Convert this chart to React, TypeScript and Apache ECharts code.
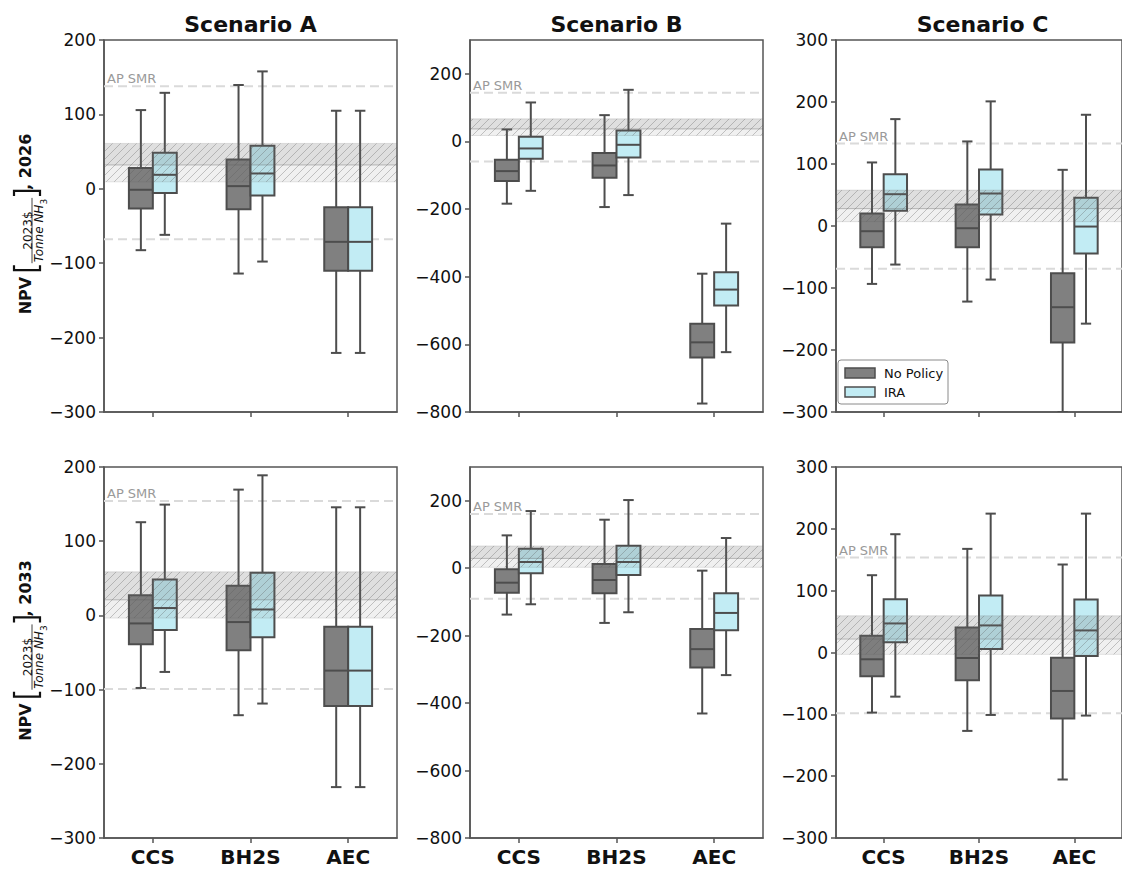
import React, { useEffect, useRef } from 'react';
import * as echarts from 'echarts';

const FONT = "'DejaVu Sans', sans-serif";

const categories = ['CCS', 'BH2S', 'AEC'];
const scenarios = ['Scenario A', 'Scenario B', 'Scenario C'];
const years = ['2026', '2033'];
const legendNames = ['No Policy', 'IRA'];
const refLabel = 'AP SMR';

// each box: [min, q1, median, q3, max] for CCS, BH2S, AEC
const a2026NoPolicy = [[-82.5, -26.5, -1.3, 27.8, 105.8], [-113.9, -27.4, 3.6, 39.5, 139.5], [-220.6, -110.3, -71.3, -24.7, 104.9]];
const a2026IRA = [[-61.9, -5.8, 18.8, 48.4, 129], [-97.8, -9, 20.6, 57.8, 157.8], [-220.6, -110.3, -71.3, -24.7, 104.9]];
const b2026NoPolicy = [[-184, -117, -87.7, -54, 35.5], [-194, -107, -71, -34.5, 77.8], [-775, -639, -594, -539, -391]];
const b2026IRA = [[-146, -51.2, -20.7, 13.8, 115.3], [-158.6, -47.3, -9.9, 32.5, 152.7], [-623, -485, -438, -387, -243]];
const c2026NoPolicy = [[-93.4, -34.2, -8.4, 20, 102.5], [-121.9, -34.2, -3.6, 34.7, 136.4], [-300, -188, -131, -76.2, 90.6]];
const c2026IRA = [[-62.2, 24.4, 51.3, 83.6, 172.4], [-86.4, 18.5, 52.4, 91.2, 201], [-157.5, -44.4, -0.9, 45.4, 179.4]];
const a2033NoPolicy = [[-97.8, -39, -10.8, 27, 125.6], [-134.5, -47, -9, 40, 169.5], [-231.4, -122, -74.4, -15.2, 145.7]];
const a2033IRA = [[-76.2, -19.7, 9.9, 48.4, 149.3], [-118.8, -29.6, 8, 57.4, 188.8], [-231.4, -122, -74.4, -15.2, 145.7]];
const b2033NoPolicy = [[-137.6, -72.5, -43, -3.4, 97.3], [-162.3, -74.4, -35, 12.4, 143.7], [-430.8, -294.6, -240, -180, -7.3]];
const b2033IRA = [[-107, -15.2, 18.4, 57.8, 169.4], [-130.7, -20.1, 18.4, 66.7, 202], [-317, -184, -132.7, -74.4, 89.4]];
const c2033NoPolicy = [[-97.2, -38.5, -11, 27.1, 125], [-126.8, -45, -8.9, 40.6, 167.6], [-205.4, -106.9, -62.2, -8.4, 142.3]];
const c2033IRA = [[-71.4, 16.4, 47, 86.3, 191.3], [-101, 5.6, 43.8, 92.2, 224.6], [-102, -5.7, 35.7, 85.8, 224.6]];

// hatched SMR band per scenario: [low, mid, high]
const band2026 = [[9.4, 32, 61], [17.6, 37, 66.8], [7, 28, 58]];
const band2033 = [[-3.6, 21, 58.7], [2.6, 29, 66], [-3, 21.7, 59.4]];
// dashed reference lines per scenario: [AP SMR, lower]
const ref2026 = [[138, -67.7], [143.8, -59], [133, -69]];
const ref2033 = [[154.3, -99.1], [160.5, -91], [153.6, -98.3]];

// y axis ranges per scenario
const yMins = [-300, -800, -300];
const yMaxs = [200, 300, 300];
const yIntervals = [100, 200, 100];

const noPolicyRows = [[a2026NoPolicy, b2026NoPolicy, c2026NoPolicy], [a2033NoPolicy, b2033NoPolicy, c2033NoPolicy]];
const iraRows = [[a2026IRA, b2026IRA, c2026IRA], [a2033IRA, b2033IRA, c2033IRA]];
const bandRows = [band2026, band2033];
const refRows = [ref2026, ref2033];

// layout
const GRID_LEFT = [104, 470, 836];
const GRID_TOP = [40, 467];
const GRID_H = [372, 371];
const GRID_W = 293;

const EDGE = '#4d4d4d';
const NP_FILL = '#808080';
const IRA_FILL = '#c2ecf4';
const SPINE = '#555555';

function measure(text: string, font: string) {
  const ctx = document.createElement('canvas').getContext('2d') as CanvasRenderingContext2D;
  ctx.font = font;
  return ctx.measureText(text).width;
}

function boxRender(sign: number, fill: string) {
  return (params: any, api: any) => {
    const cat = api.value(0);
    const yMin = api.coord([cat, api.value(1)])[1];
    const yQ1 = api.coord([cat, api.value(2)])[1];
    const yMed = api.coord([cat, api.value(3)])[1];
    const yQ3 = api.coord([cat, api.value(4)])[1];
    const yMax = api.coord([cat, api.value(5)])[1];
    const c0 = api.coord([cat, 0])[0];
    const band = api.size([1, 0])[0];
    const bw = band * 0.245;
    const cx = c0 + (sign * bw) / 2;
    const cap = bw * 0.22;
    const st = { stroke: EDGE, lineWidth: 2 };
    return {
      type: 'group',
      children: [
        { type: 'line', shape: { x1: cx, y1: yMax, x2: cx, y2: yQ3 }, style: st },
        { type: 'line', shape: { x1: cx, y1: yQ1, x2: cx, y2: yMin }, style: st },
        { type: 'line', shape: { x1: cx - cap, y1: yMax, x2: cx + cap, y2: yMax }, style: st },
        { type: 'line', shape: { x1: cx - cap, y1: yMin, x2: cx + cap, y2: yMin }, style: st },
        { type: 'rect', shape: { x: cx - bw / 2, y: yQ3, width: bw, height: yQ1 - yQ3 }, style: { fill, stroke: EDGE, lineWidth: 2 } },
        { type: 'line', shape: { x1: cx - bw / 2, y1: yMed, x2: cx + bw / 2, y2: yMed }, style: st },
      ],
    };
  };
}

function bandRender(params: any, api: any) {
  const cs = params.coordSys;
  const yLow = api.coord([0, api.value(1)])[1];
  const yMid = api.coord([0, api.value(2)])[1];
  const yHigh = api.coord([0, api.value(3)])[1];
  const x0 = cs.x;
  const x1 = cs.x + cs.width;
  const children: any[] = [
    { type: 'rect', shape: { x: x0, y: yHigh, width: cs.width, height: yMid - yHigh }, style: { fill: 'rgba(110,110,110,0.22)' } },
    { type: 'rect', shape: { x: x0, y: yMid, width: cs.width, height: yLow - yMid }, style: { fill: 'rgba(110,110,110,0.1)' } },
  ];
  const s = 8;
  const cStart = Math.ceil((x0 + yHigh) / s) * s;
  for (let c = cStart; c <= x1 + yLow; c += s) {
    const xa = Math.max(x0, c - yLow);
    const xb = Math.min(x1, c - yHigh);
    if (xb > xa) {
      children.push({ type: 'line', shape: { x1: xa, y1: c - xa, x2: xb, y2: c - xb }, style: { stroke: 'rgba(90,90,90,0.33)', lineWidth: 1 } });
    }
  }
  children.push({ type: 'line', shape: { x1: x0, y1: yMid, x2: x1, y2: yMid }, style: { stroke: 'rgba(90,90,90,0.35)', lineWidth: 1 } });
  children.push({ type: 'line', shape: { x1: x0, y1: yHigh, x2: x1, y2: yHigh }, style: { stroke: 'rgba(90,90,90,0.15)', lineWidth: 1 } });
  children.push({ type: 'line', shape: { x1: x0, y1: yLow, x2: x1, y2: yLow }, style: { stroke: 'rgba(90,90,90,0.15)', lineWidth: 1 } });
  return { type: 'group', children };
}

function refRender(params: any, api: any) {
  const cs = params.coordSys;
  const yUp = api.coord([0, api.value(1)])[1];
  const yLo = api.coord([0, api.value(2)])[1];
  const dash = { stroke: '#dadada', lineWidth: 2, lineDash: [9, 5] };
  return {
    type: 'group',
    children: [
      { type: 'line', shape: { x1: cs.x, y1: yUp, x2: cs.x + cs.width, y2: yUp }, style: dash },
      { type: 'line', shape: { x1: cs.x, y1: yLo, x2: cs.x + cs.width, y2: yLo }, style: dash },
      {
        type: 'text',
        x: cs.x + 3,
        y: yUp - 1,
        style: { text: refLabel, fontSize: 13, fontFamily: FONT, fill: '#9a9a9a', verticalAlign: 'bottom', textVerticalAlign: 'bottom', align: 'left', textAlign: 'left' },
      },
    ],
  };
}

function yLabel(year: string, cy: number) {
  const fMain = `bold 16px ${FONT}`;
  const t1 = 'NPV ';
  const t2 = ', ' + year;
  const w1 = measure(t1, fMain);
  const w2 = measure(t2, fMain);
  const wNum = measure('2023$', `12px ${FONT}`);
  const wDen1 = measure('Tonne NH', `italic 12px ${FONT}`);
  const wSub = measure('3', `9px ${FONT}`);
  const wDen = wDen1 + wSub;
  const wf = Math.max(wNum, wDen) + 2;
  const bw = 6;
  const gap = 2;
  const total = w1 + bw + gap + wf + gap + bw + w2;
  const x0 = -total / 2;
  const bx1 = x0 + w1;
  const fx0 = bx1 + bw + gap;
  const fc = fx0 + wf / 2;
  const bx2 = fx0 + wf + gap + bw;
  const bTop = -11;
  const bBot = 15;
  const barY = 7;
  const txt = (x: number, y: number, text: string, extra: any) => ({
    type: 'text',
    x,
    y,
    style: Object.assign({ text, fontFamily: FONT, fill: '#111' }, extra),
  });
  return {
    type: 'group',
    x: 25,
    y: cy,
    rotation: Math.PI / 2,
    children: [
      txt(x0, 0, t1, { fontSize: 16, fontWeight: 'bold', align: 'left', textAlign: 'left', verticalAlign: 'middle', textVerticalAlign: 'middle' }),
      { type: 'polyline', shape: { points: [[bx1 + bw, bTop], [bx1 + 1, bTop], [bx1 + 1, bBot], [bx1 + bw, bBot]] }, style: { stroke: '#111', lineWidth: 2.2, fill: null } },
      txt(fc, barY + 1.5, '2023$', { fontSize: 12, align: 'center', textAlign: 'center', verticalAlign: 'bottom', textVerticalAlign: 'bottom' }),
      { type: 'line', shape: { x1: fx0, y1: barY, x2: fx0 + wf, y2: barY }, style: { stroke: '#111', lineWidth: 0.8 } },
      txt(fc - wDen / 2, barY + 1, 'Tonne NH', { fontSize: 12, fontStyle: 'italic', align: 'left', textAlign: 'left', verticalAlign: 'top', textVerticalAlign: 'top' }),
      txt(fc - wDen / 2 + wDen1, barY + 7, '3', { fontSize: 9, align: 'left', textAlign: 'left', verticalAlign: 'top', textVerticalAlign: 'top' }),
      { type: 'polyline', shape: { points: [[bx2 - bw, bTop], [bx2 - 1, bTop], [bx2 - 1, bBot], [bx2 - bw, bBot]] }, style: { stroke: '#111', lineWidth: 2.2, fill: null } },
      txt(bx2, 0, t2, { fontSize: 16, fontWeight: 'bold', align: 'left', textAlign: 'left', verticalAlign: 'middle', textVerticalAlign: 'middle' }),
    ],
  };
}

function buildOption() {
  const grid: any[] = [];
  const xAxis: any[] = [];
  const yAxis: any[] = [];
  const series: any[] = [];
  for (let r = 0; r < 2; r++) {
    for (let c = 0; c < 3; c++) {
      const k = r * 3 + c;
      grid.push({
        left: GRID_LEFT[c],
        top: GRID_TOP[r],
        width: GRID_W,
        height: GRID_H[r],
        show: true,
        borderColor: SPINE,
        borderWidth: 1.5,
        backgroundColor: 'transparent',
      });
      xAxis.push({
        type: 'category',
        gridIndex: k,
        data: categories,
        axisLine: { show: true, onZero: false, lineStyle: { color: SPINE, width: 1.5 } },
        axisTick: { show: true, alignWithLabel: true, length: 5, lineStyle: { color: SPINE, width: 1.5 } },
        axisLabel: { show: r === 1, fontFamily: FONT, fontWeight: 'bold', fontSize: 20, color: '#111', margin: 9 },
        splitLine: { show: false },
      });
      yAxis.push({
        type: 'value',
        gridIndex: k,
        min: yMins[c],
        max: yMaxs[c],
        interval: yIntervals[c],
        axisLine: { show: true, onZero: false, lineStyle: { color: SPINE, width: 1.5 } },
        axisTick: { show: true, length: 5, lineStyle: { color: SPINE, width: 1.5 } },
        axisLabel: {
          fontFamily: FONT,
          fontSize: 17,
          color: '#111',
          margin: 8,
          showMaxLabel: (yMaxs[c] - yMins[c]) % yIntervals[c] === 0,
          formatter: (v: number) => (v < 0 ? '\u2212' + Math.abs(v) : String(v)),
        },
        splitLine: { show: false },
      });
      series.push({
        type: 'custom',
        name: 'ref',
        xAxisIndex: k,
        yAxisIndex: k,
        z: 1,
        silent: true,
        encode: { x: 0, y: [1, 2] },
        data: [[0, refRows[r][c][0], refRows[r][c][1]]],
        renderItem: refRender,
      });
      series.push({
        type: 'custom',
        name: legendNames[0],
        xAxisIndex: k,
        yAxisIndex: k,
        z: 10,
        clip: true,
        encode: { x: 0, y: [1, 2, 3, 4, 5] },
        data: noPolicyRows[r][c].map((b, i) => [i, ...b]),
        renderItem: boxRender(-1, NP_FILL),
      });
      series.push({
        type: 'custom',
        name: legendNames[1],
        xAxisIndex: k,
        yAxisIndex: k,
        z: 10,
        clip: true,
        encode: { x: 0, y: [1, 2, 3, 4, 5] },
        data: iraRows[r][c].map((b, i) => [i, ...b]),
        renderItem: boxRender(1, IRA_FILL),
      });
      series.push({
        type: 'custom',
        name: 'band',
        xAxisIndex: k,
        yAxisIndex: k,
        z: 12,
        silent: true,
        encode: { x: 0, y: [1, 2, 3] },
        data: [[0, bandRows[r][c][0], bandRows[r][c][1], bandRows[r][c][2]]],
        renderItem: bandRender,
      });
    }
  }

  const graphic: any[] = [];
  scenarios.forEach((s, c) => {
    graphic.push({
      type: 'text',
      x: GRID_LEFT[c] + GRID_W / 2,
      y: 24,
      z: 100,
      style: { text: s, fontFamily: FONT, fontSize: 22, fontWeight: 'bold', fill: '#111', align: 'center', textAlign: 'center', verticalAlign: 'middle', textVerticalAlign: 'middle' },
    });
  });
  years.forEach((y, r) => {
    const g: any = yLabel(y, GRID_TOP[r] + GRID_H[r] / 2 - 2);
    g.z = 100;
    graphic.push(g);
  });
  // legend in top-right panel
  graphic.push({
    type: 'group',
    z: 100,
    children: [
      { type: 'rect', shape: { x: 838, y: 360, width: 110, height: 44, r: 3 }, style: { fill: '#ffffff', stroke: '#8a8a8a', lineWidth: 1 } },
      { type: 'rect', shape: { x: 845, y: 368, width: 30, height: 10 }, style: { fill: NP_FILL, stroke: EDGE, lineWidth: 1.5 } },
      { type: 'text', x: 884, y: 373, style: { text: legendNames[0], fontFamily: FONT, fontSize: 13, fill: '#111', verticalAlign: 'middle', textVerticalAlign: 'middle' } },
      { type: 'rect', shape: { x: 845, y: 387, width: 30, height: 10 }, style: { fill: IRA_FILL, stroke: EDGE, lineWidth: 1.5 } },
      { type: 'text', x: 884, y: 392, style: { text: legendNames[1], fontFamily: FONT, fontSize: 13, fill: '#111', verticalAlign: 'middle', textVerticalAlign: 'middle' } },
    ],
  });

  return {
    animation: false,
    backgroundColor: '#ffffff',
    textStyle: { fontFamily: FONT },
    grid,
    xAxis,
    yAxis,
    series,
    graphic,
  };
}

export default function App() {
  const ref = useRef<HTMLDivElement>(null);
  useEffect(() => {
    if (!ref.current) return;
    const chart = echarts.init(ref.current, null, { renderer: 'svg' });
    chart.setOption(buildOption() as any);
    return () => chart.dispose();
  }, []);
  return <div ref={ref} style={{ position: 'absolute', left: 0, top: 0, width: 1122, height: 872 }} />;
}
